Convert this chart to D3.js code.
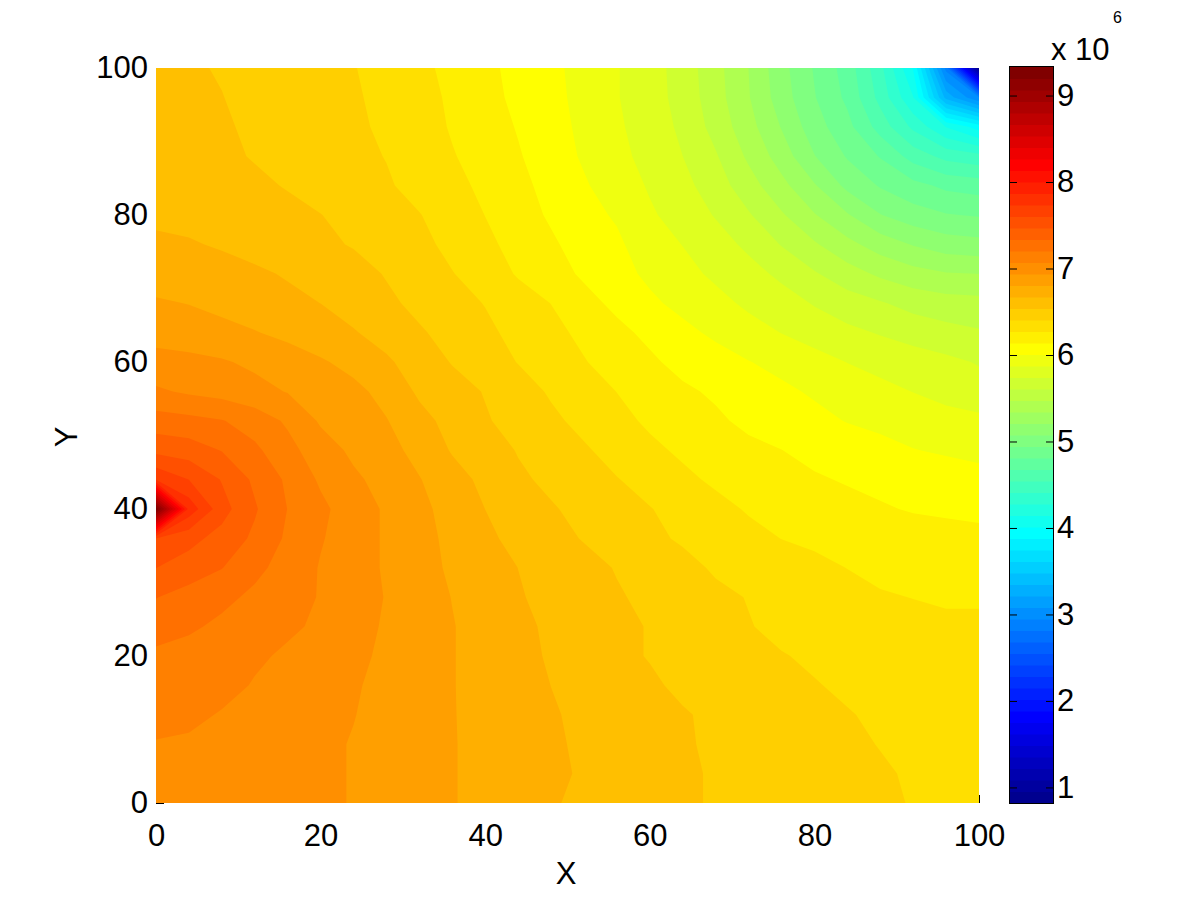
<!DOCTYPE html>
<html>
<head>
<meta charset="utf-8">
<script src="https://cdn.jsdelivr.net/npm/d3@7"></script>
<style>
  body { margin: 0; background: #fff; }
  text { font-family: "Liberation Sans", Arial, sans-serif; fill: #000; }
</style>
</head>
<body>
<svg id="chart" width="1200" height="901"></svg>
<script>
var xValues = d3.range(0, 101, 4)
var yValues = d3.range(0, 101, 4)
var xTicks = [0, 20, 40, 60, 80, 100]
var yTicks = [0, 20, 40, 60, 80, 100]
var barTicks = [1, 2, 3, 4, 5, 6, 7, 8, 9]
var valueRange = [0.82, 9.33]   // in units of 10^6
var levelCount = 64

// values, one row per y (y=0 first), units of 10^6
var z = [
[7.03,7.02,7.01,7.00,6.98,6.96,6.93,6.89,6.85,6.81,6.77,6.72,6.68,6.65,6.62,6.59,6.55,6.53,6.51,6.49,6.47,6.45,6.42,6.40,6.39,6.38],
[7.05,7.04,7.03,7.01,6.99,6.96,6.93,6.89,6.85,6.81,6.77,6.73,6.69,6.66,6.63,6.60,6.55,6.53,6.50,6.48,6.46,6.44,6.42,6.39,6.38,6.37],
[7.06,7.05,7.04,7.02,6.99,6.96,6.93,6.89,6.85,6.81,6.77,6.73,6.69,6.65,6.62,6.58,6.55,6.52,6.50,6.47,6.45,6.43,6.40,6.38,6.37,6.36],
[7.12,7.10,7.06,7.03,7.00,6.97,6.94,6.90,6.85,6.81,6.76,6.71,6.68,6.65,6.61,6.58,6.55,6.51,6.49,6.46,6.44,6.41,6.39,6.37,6.35,6.34],
[7.16,7.14,7.11,7.06,7.02,6.99,6.95,6.90,6.85,6.81,6.75,6.71,6.67,6.63,6.59,6.56,6.51,6.48,6.46,6.44,6.41,6.39,6.37,6.35,6.33,6.32],
[7.18,7.16,7.13,7.09,7.05,7.01,6.97,6.91,6.87,6.81,6.75,6.70,6.66,6.62,6.57,6.53,6.50,6.46,6.43,6.41,6.39,6.37,6.35,6.33,6.31,6.30],
[7.25,7.22,7.18,7.14,7.09,7.05,6.99,6.92,6.87,6.81,6.75,6.70,6.65,6.61,6.57,6.53,6.50,6.46,6.41,6.38,6.35,6.33,6.31,6.30,6.29,6.29],
[7.34,7.28,7.23,7.18,7.13,7.06,7.00,6.93,6.87,6.80,6.74,6.68,6.64,6.60,6.55,6.51,6.47,6.43,6.40,6.36,6.33,6.31,6.28,6.27,6.26,6.26],
[7.47,7.41,7.34,7.23,7.16,7.06,7.00,6.92,6.86,6.78,6.72,6.67,6.62,6.58,6.53,6.49,6.44,6.39,6.36,6.33,6.30,6.27,6.25,6.23,6.22,6.21],
[7.60,7.51,7.42,7.31,7.18,7.08,7.00,6.92,6.85,6.77,6.70,6.63,6.58,6.53,6.48,6.43,6.39,6.35,6.31,6.27,6.25,6.23,6.21,6.19,6.18,6.17],
[9.30,7.82,7.52,7.35,7.20,7.10,7.00,6.92,6.84,6.75,6.67,6.61,6.55,6.50,6.46,6.41,6.36,6.31,6.26,6.23,6.20,6.17,6.15,6.13,6.12,6.11],
[7.72,7.60,7.46,7.31,7.18,7.05,6.96,6.89,6.81,6.72,6.64,6.56,6.51,6.46,6.41,6.36,6.30,6.25,6.21,6.18,6.15,6.13,6.11,6.09,6.07,6.05],
[7.43,7.40,7.33,7.23,7.11,7.00,6.91,6.85,6.76,6.66,6.60,6.53,6.48,6.42,6.36,6.30,6.25,6.21,6.17,6.14,6.11,6.08,6.05,6.01,5.99,5.97],
[7.26,7.24,7.21,7.14,7.05,6.92,6.87,6.81,6.71,6.63,6.55,6.49,6.43,6.37,6.31,6.25,6.21,6.16,6.11,6.08,6.04,6.00,5.97,5.95,5.92,5.90],
[7.09,7.05,7.02,6.98,6.93,6.88,6.84,6.76,6.65,6.59,6.53,6.46,6.39,6.33,6.27,6.22,6.16,6.12,6.07,6.03,5.99,5.95,5.91,5.87,5.83,5.80],
[6.98,6.97,6.95,6.91,6.87,6.82,6.76,6.69,6.61,6.53,6.47,6.40,6.34,6.28,6.21,6.16,6.10,6.06,6.01,5.97,5.92,5.87,5.83,5.80,5.77,5.73],
[6.89,6.87,6.84,6.81,6.77,6.72,6.68,6.62,6.55,6.50,6.43,6.37,6.31,6.24,6.17,6.11,6.04,5.98,5.92,5.87,5.82,5.77,5.73,5.69,5.65,5.62],
[6.82,6.80,6.77,6.74,6.70,6.67,6.62,6.56,6.51,6.45,6.40,6.33,6.27,6.18,6.11,6.03,5.97,5.91,5.85,5.80,5.73,5.67,5.62,5.56,5.53,5.52],
[6.74,6.73,6.71,6.69,6.66,6.62,6.58,6.53,6.47,6.41,6.34,6.26,6.19,6.12,6.05,5.98,5.91,5.85,5.79,5.71,5.62,5.53,5.45,5.39,5.35,5.34],
[6.69,6.68,6.66,6.63,6.60,6.56,6.53,6.48,6.44,6.37,6.30,6.23,6.16,6.08,6.03,5.93,5.87,5.80,5.71,5.60,5.49,5.38,5.28,5.20,5.14,5.12],
[6.65,6.64,6.62,6.60,6.57,6.54,6.50,6.46,6.41,6.34,6.27,6.20,6.12,6.05,5.99,5.89,5.82,5.73,5.62,5.49,5.35,5.22,5.08,5.00,4.95,4.93],
[6.61,6.60,6.58,6.56,6.53,6.49,6.46,6.42,6.36,6.30,6.25,6.18,6.09,6.02,5.94,5.86,5.78,5.67,5.53,5.38,5.22,5.04,4.93,4.85,4.78,4.75],
[6.59,6.58,6.56,6.53,6.50,6.47,6.44,6.40,6.34,6.28,6.22,6.15,6.07,5.99,5.91,5.83,5.74,5.62,5.45,5.28,5.08,4.93,4.80,4.62,4.50,4.45],
[6.58,6.57,6.55,6.52,6.49,6.46,6.43,6.38,6.33,6.26,6.20,6.13,6.05,5.98,5.89,5.82,5.71,5.56,5.39,5.20,5.00,4.85,4.62,4.38,4.14,3.95],
[6.57,6.56,6.54,6.51,6.48,6.45,6.42,6.37,6.32,6.25,6.18,6.11,6.04,5.97,5.88,5.80,5.69,5.53,5.35,5.14,4.95,4.78,4.50,4.15,3.30,2.95],
[6.56,6.55,6.53,6.50,6.47,6.44,6.41,6.36,6.30,6.24,6.17,6.10,6.03,5.97,5.88,5.80,5.68,5.52,5.34,5.12,4.93,4.75,4.45,4.00,2.90,0.83]
]

// matlab style jet map, index 0..63
function jet(k) {
  var i = k + 1
  var r = i < 25 ? 0 : i < 40 ? (i - 24) / 16 : i <= 56 ? 1 : 1 - (i - 56) / 16
  var g = i < 9 ? 0 : i < 25 ? (i - 8) / 16 : i <= 40 ? 1 : i <= 56 ? 1 - (i - 40) / 16 : 0
  var b = i < 9 ? (i + 8) / 16 : i <= 24 ? 1 : i < 40 ? 1 - (i - 24) / 16 : 0
  return d3.rgb(r * 255, g * 255, b * 255).formatRgb()
}

var svg = d3.select("#chart")
var plot = {left: 156, right: 979, top: 68, bottom: 803}
var bar = {left: 1010, right: 1053, top: 67, bottom: 803}

var xScale = d3.scaleLinear().domain([0, 100]).range([plot.left, plot.right])
var yScale = d3.scaleLinear().domain([0, 100]).range([plot.bottom, plot.top])
var barScale = d3.scaleLinear().domain(valueRange).range([bar.bottom, bar.top])

var levelStep = (valueRange[1] - valueRange[0]) / levelCount
var levels = d3.range(levelCount).map(k => valueRange[0] + k * levelStep)

// axes go under the filled area, only the bottom pixel of the ticks shows
var xAxis = svg.append("g")
  .attr("transform", "translate(0," + plot.bottom + ")")
  .call(d3.axisBottom(xScale).tickValues(xTicks).tickSizeInner(-8).tickSizeOuter(0).tickPadding(21))
var yAxis = svg.append("g")
  .attr("transform", "translate(" + plot.left + ",0)")
  .call(d3.axisLeft(yScale).tickValues(yTicks).tickSizeInner(-8).tickSizeOuter(0).tickPadding(8))
xAxis.select(".domain").remove()
yAxis.select(".domain").remove()
svg.selectAll("g text").attr("font-size", 31).attr("font-family", null)

svg.append("clipPath").attr("id", "plot-clip")
  .append("rect")
  .attr("x", plot.left).attr("y", plot.top)
  .attr("width", plot.right - plot.left).attr("height", plot.bottom - plot.top)

// d3.contours puts sample i at i+0.5
var gridStep = xValues[1] - xValues[0]
var toPlot = d3.geoTransform({
  point: function(cx, cy) {
    this.stream.point(xScale((cx - 0.5) * gridStep), yScale((cy - 0.5) * gridStep))
  }
})
var path = d3.geoPath(toPlot)

var contours = d3.contours()
  .size([xValues.length, yValues.length])
  .thresholds(levels)(z.flat())

svg.append("g")
  .attr("clip-path", "url(#plot-clip)")
  .selectAll("path")
  .data(contours)
  .enter().append("path")
  .attr("d", path)
  .attr("fill", (d, i) => jet(i))

// colorbar
svg.append("g").selectAll("rect")
  .data(levels)
  .enter().append("rect")
  .attr("x", bar.left)
  .attr("width", bar.right - bar.left)
  .attr("y", d => barScale(d + levelStep))
  .attr("height", d => barScale(d) - barScale(d + levelStep) + 0.5)
  .attr("fill", (d, i) => jet(i))

svg.append("rect")
  .attr("x", bar.left - 0.5).attr("y", bar.top - 0.5)
  .attr("width", bar.right - bar.left + 1).attr("height", bar.bottom - bar.top + 1)
  .attr("fill", "none").attr("stroke", "#000")

var barAxis = svg.append("g")
  .attr("transform", "translate(" + bar.right + ",0)")
  .call(d3.axisRight(barScale).tickValues(barTicks).tickSizeInner(-7).tickSizeOuter(0).tickPadding(4))
barAxis.select(".domain").remove()
barAxis.selectAll("text").attr("font-size", 31).attr("font-family", null)

svg.append("g")
  .attr("transform", "translate(" + bar.left + ",0)")
  .call(d3.axisLeft(barScale).tickValues(barTicks).tickSizeInner(-7).tickSizeOuter(0).tickFormat(""))
  .select(".domain").remove()

// labels
svg.append("text").attr("x", 566).attr("y", 884)
  .attr("text-anchor", "middle").attr("font-size", 31).text("X")
svg.append("text").attr("transform", "translate(77,437) rotate(-90)")
  .attr("text-anchor", "middle").attr("font-size", 31).text("Y")
svg.append("text").attr("x", 1051).attr("y", 60).attr("font-size", 31).text("x 10")
svg.append("text").attr("x", 1113).attr("y", 23).attr("font-size", 16).text("6")
</script>
</body>
</html>
